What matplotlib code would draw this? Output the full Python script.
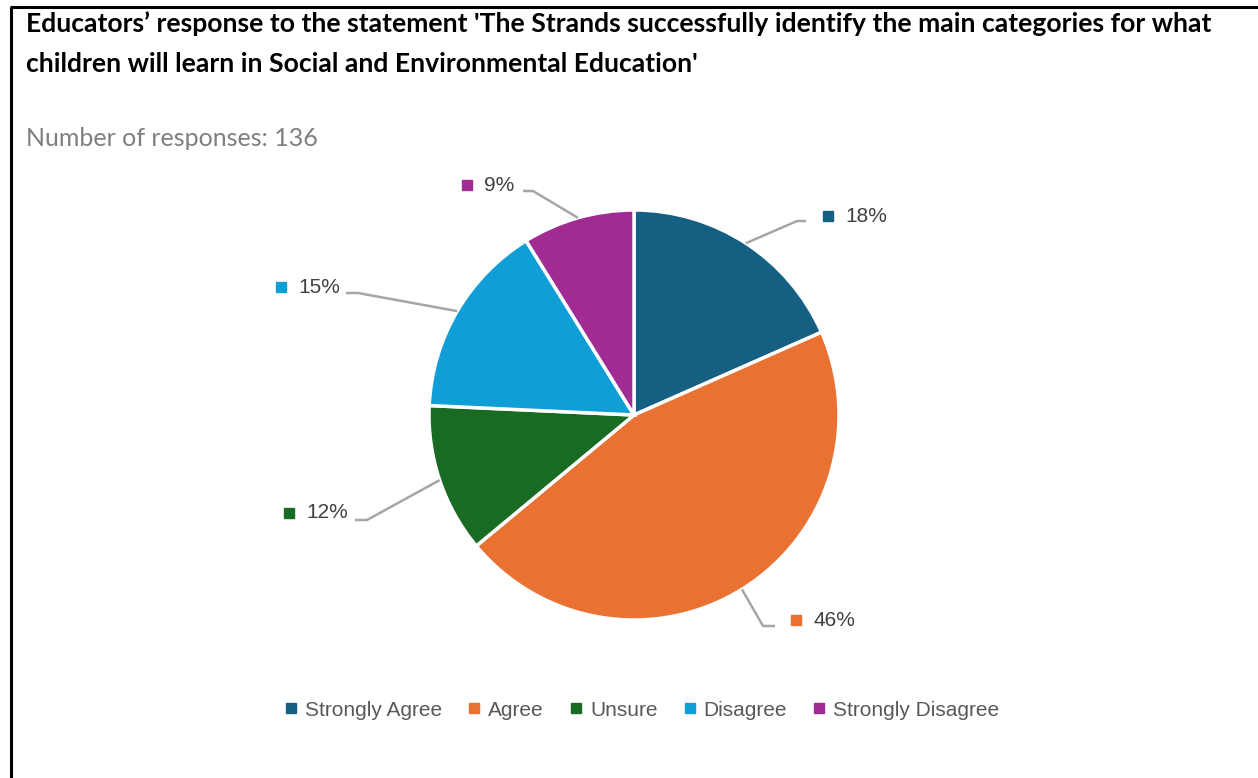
import numpy as np
import matplotlib
matplotlib.use("Agg")
import matplotlib.pyplot as plt
from matplotlib.lines import Line2D

# survey counts (136 responses)
categories = ["Strongly Agree", "Agree", "Unsure", "Disagree", "Strongly Disagree"]
counts = [25, 62, 16, 21, 12]
colors = ["#156082", "#E97132", "#196B24", "#0F9ED5", "#A02B93"]

title_lines = [
    "Educators\u2019 response to the statement 'The Strands successfully identify the main categories for what",
    "children will learn in Social and Environmental Education'",
]
subtitle = "Number of responses: 136"

W, H = 1258, 778


def Y(y):
    # image-style y (from top) to axes y
    return H - y


fig = plt.figure(figsize=(W / 100, H / 100), dpi=100)
ax = fig.add_axes([0, 0, 1, 1])

center = (634, Y(415))
radius = 205
wedges, _ = ax.pie(counts, colors=colors, startangle=90, counterclock=False,
                   center=center, radius=radius, frame=True,
                   wedgeprops=dict(edgecolor="white", linewidth=2.5))
ax.set_xlim(0, W)
ax.set_ylim(0, H)
ax.set_aspect("auto")
ax.axis("off")

# label layout: (elbow, line end, marker x, text y)
label_layout = [
    ((797, 221), (806, 221), 828, 216),   # Strongly Agree
    ((763, 626), (775, 626), 796, 620),   # Agree
    ((367, 520), (355, 520), 289, 513),   # Unsure
    ((358, 293), (346, 293), 281, 287),   # Disagree
    ((533, 191), (523, 191), 467, 185),   # Strongly Disagree
]

total = sum(counts)
for w, c, col, (elbow, end, mx, ty) in zip(wedges, counts, colors, label_layout):
    mid = np.deg2rad((w.theta1 + w.theta2) / 2)
    sx = center[0] + radius * np.cos(mid)
    sy = center[1] + radius * np.sin(mid)
    ax.plot([sx, elbow[0], end[0]], [sy, Y(elbow[1]), Y(end[1])],
            color="#a6a6a6", lw=1.8, solid_capstyle="butt")
    ax.plot(mx, Y(ty), marker="s", ms=6.5, color=col, ls="")
    ax.text(mx + 17, Y(ty), f"{round(100 * c / total)}%", ha="left", va="center",
            fontsize=15, color="#404040", family="Liberation Sans")

# frame lines along the top and left
ax.plot([10, W], [Y(7), Y(7)], color="black", lw=2.2, solid_capstyle="butt")
ax.plot([11, 11], [Y(7), 0], color="black", lw=2.2, solid_capstyle="butt")

for line, base in zip(title_lines, [32, 72]):
    fig.text(26 / W, 1 - base / H, line, ha="left", va="baseline", fontsize=19.1,
             fontweight="bold", family="Lato", color="black")
fig.text(26 / W, 1 - 138 / H, subtitle, ha="left", va="center", fontsize=18,
         family="Lato", color="#7f7f7f")

handles = [Line2D([], [], marker="s", ls="", color=col, ms=6.5) for col in colors]
fig.legend(handles, categories, loc="center", bbox_to_anchor=(642 / W, 1 - 710 / H),
           ncol=5, frameon=False, handlelength=0.6, handletextpad=0.37,
           columnspacing=1.25, prop=dict(family="Liberation Sans", size=15),
           labelcolor="#595959")

fig.savefig("out.png", dpi=100)
